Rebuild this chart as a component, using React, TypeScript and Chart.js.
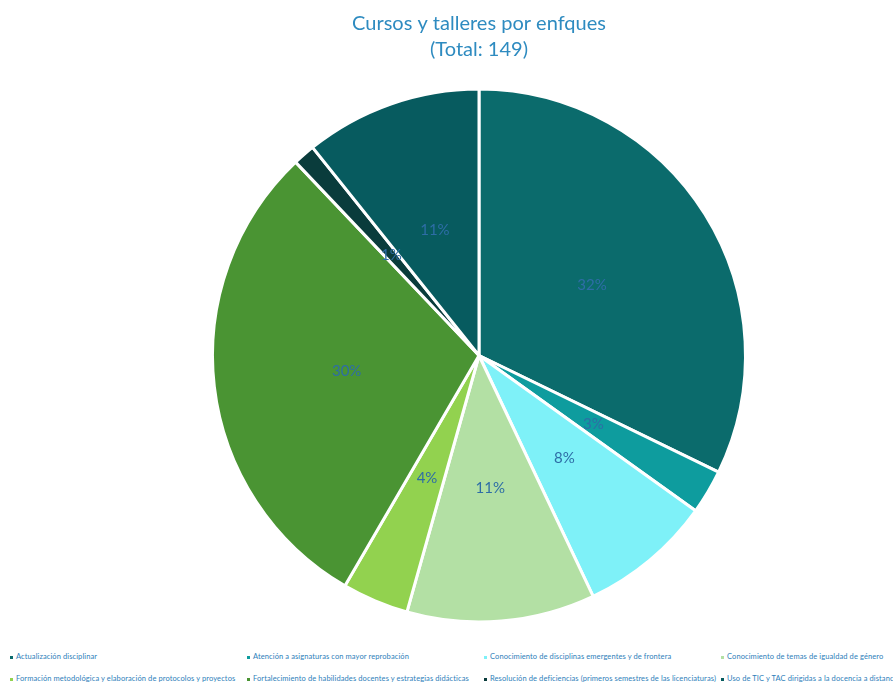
import React, { useEffect, useRef } from "react";
import { Chart, registerables } from "chart.js";

Chart.register(...registerables);

const categories = [
  "Actualización disciplinar",
  "Atención a asignaturas con mayor reprobación",
  "Conocimiento de disciplinas emergentes y de frontera",
  "Conocimiento de temas de igualdad de género",
  "Formación metodológica y elaboración de protocolos y proyectos",
  "Fortalecimiento de habilidades docentes y estrategias didácticas",
  "Resolución de deficiencias (primeros semestres de las licenciaturas)",
  "Uso de TIC y TAC dirigidas a la docencia a distancia",
];
const counts = [48, 4, 12, 17, 6, 44, 2, 16];
const colors = [
  "#0B6B6C",
  "#0E9C9E",
  "#7EF1F8",
  "#B3E0A4",
  "#92D24F",
  "#4A9433",
  "#0A3C3C",
  "#075B5F",
];
const titleLines = ["Cursos y talleres por enfques", "(Total: 149)"];

const labelPlugin = {
  id: "pctLabels",
  afterDatasetsDraw(chart: any) {
    const { ctx } = chart;
    const meta = chart.getDatasetMeta(0);
    const data = chart.data.datasets[0].data as number[];
    const total = data.reduce((a, b) => a + b, 0);
    ctx.save();
    ctx.font = "15px Lato, 'Open Sans', sans-serif";
    ctx.fillStyle = "#2E6DA6";
    ctx.textAlign = "center";
    ctx.textBaseline = "middle";
    meta.data.forEach((arc: any, i: number) => {
      const mid = (arc.startAngle + arc.endAngle) / 2;
      const r = arc.outerRadius * 0.5;
      const x = arc.x + Math.cos(mid) * r;
      const y = arc.y + Math.sin(mid) * r;
      ctx.fillText(Math.round((data[i] / total) * 100) + "%", x, y);
    });
    ctx.restore();
  },
};

export default function App() {
  const ref = useRef<HTMLCanvasElement>(null);
  useEffect(() => {
    document.body.style.margin = "0";
    const chart = new Chart(ref.current!, {
      type: "pie",
      data: {
        labels: categories,
        datasets: [
          {
            data: counts,
            backgroundColor: colors,
            borderColor: "#ffffff",
            borderWidth: 3,
          },
        ],
      },
      options: {
        responsive: false,
        animation: false,
        layout: { padding: { left: 211, right: 146, top: 0, bottom: 16 } },
        plugins: {
          legend: { display: false },
          tooltip: { enabled: false },
          title: {
            display: true,
            text: titleLines,
            color: "#2E8BC0",
            font: { family: "Lato, 'Open Sans', sans-serif", size: 20, weight: "normal", lineHeight: 1.3 },
            padding: { top: 11, bottom: 24 },
          },
        },
      },
      plugins: [labelPlugin],
    });
    return () => chart.destroy();
  }, []);

  return (
    <div style={{ position: "relative", width: 893, height: 682, overflow: "hidden", background: "#fff" }}>
      <canvas ref={ref} width={893} height={640} style={{ position: "absolute", left: 0, top: 0 }} />
      <div
        style={{
          position: "absolute",
          left: 8,
          top: 650,
          width: 948,
          display: "grid",
          gridTemplateColumns: "237px 237px 237px 237px",
          rowGap: 8,
          fontFamily: "Lato, 'Open Sans', sans-serif",
          fontSize: 7.5,
          letterSpacing: 0.1,
          color: "#2E80BA",
          lineHeight: "14px",
        }}
      >
        {categories.map((c, i) => (
          <div key={c} style={{ whiteSpace: "nowrap", overflow: "hidden", display: "flex", alignItems: "center" }}>
            <span
              style={{
                display: "inline-block",
                width: 3,
                height: 3,
                background: colors[i],
                marginLeft: 2,
                marginRight: 3,
                flexShrink: 0,
              }}
            />
            <span>{c}</span>
          </div>
        ))}
      </div>
    </div>
  );
}
